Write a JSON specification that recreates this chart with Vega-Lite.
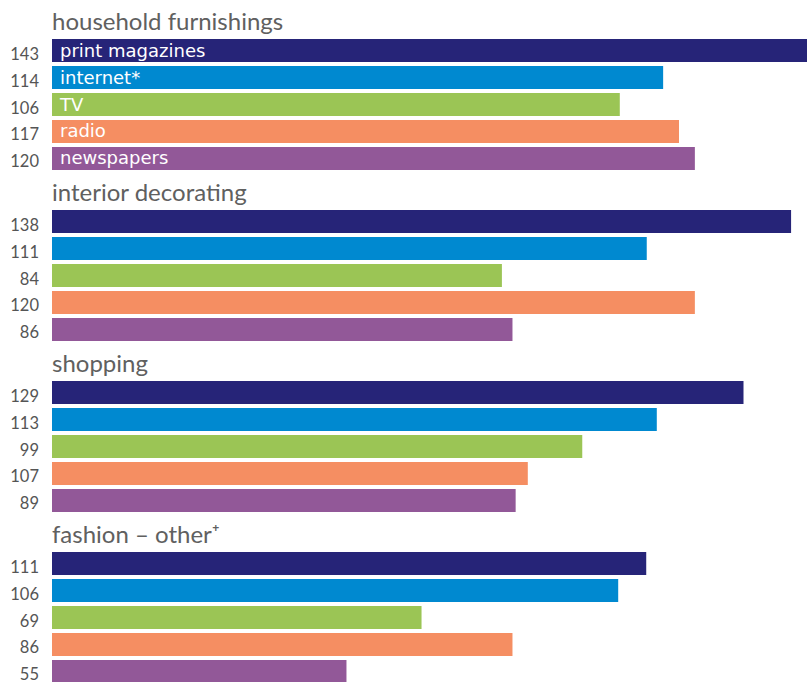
{
  "$schema": "https://vega.github.io/schema/vega-lite/v6.json",
  "padding": {"left": 10, "top": 11, "right": 0, "bottom": 0},
  "background": "white",
  "config": {"view": {"stroke": null}, "font": "Lato"},
  "data": {
    "values": [
      {"group": "household furnishings", "media": "print magazines", "index": 143, "bar": 143.0},
      {"group": "household furnishings", "media": "internet*", "index": 114, "bar": 115.6},
      {"group": "household furnishings", "media": "TV", "index": 106, "bar": 107.4},
      {"group": "household furnishings", "media": "radio", "index": 117, "bar": 118.6},
      {"group": "household furnishings", "media": "newspapers", "index": 120, "bar": 121.6},
      {"group": "interior decorating", "media": "print magazines", "index": 138, "bar": 139.8},
      {"group": "interior decorating", "media": "internet*", "index": 111, "bar": 112.5},
      {"group": "interior decorating", "media": "TV", "index": 84, "bar": 85.1},
      {"group": "interior decorating", "media": "radio", "index": 120, "bar": 121.6},
      {"group": "interior decorating", "media": "newspapers", "index": 86, "bar": 87.1},
      {"group": "shopping", "media": "print magazines", "index": 129, "bar": 130.8},
      {"group": "shopping", "media": "internet*", "index": 113, "bar": 114.4},
      {"group": "shopping", "media": "TV", "index": 99, "bar": 100.3},
      {"group": "shopping", "media": "radio", "index": 107, "bar": 90.0},
      {"group": "shopping", "media": "newspapers", "index": 89, "bar": 87.7},
      {"group": "fashion – other⁺", "media": "print magazines", "index": 111, "bar": 112.4},
      {"group": "fashion – other⁺", "media": "internet*", "index": 106, "bar": 107.1},
      {"group": "fashion – other⁺", "media": "TV", "index": 69, "bar": 69.9},
      {"group": "fashion – other⁺", "media": "radio", "index": 86, "bar": 87.1},
      {"group": "fashion – other⁺", "media": "newspapers", "index": 55, "bar": 55.7}
    ]
  },
  "facet": {
    "row": {
      "field": "group",
      "type": "nominal",
      "sort": ["household furnishings", "interior decorating", "shopping", "fashion – other⁺"],
      "title": null,
      "header": {
        "labelOrient": "top",
        "labelAnchor": "start",
        "labelAngle": 0,
        "labelFontSize": 24,
        "labelFont": "Lato",
        "labelColor": "#606060",
        "labelPadding": -20
      }
    }
  },
  "spacing": 11,
  "spec": {
    "width": 756,
    "height": 131,
    "encoding": {
      "y": {
        "field": "media",
        "type": "nominal",
        "sort": ["print magazines", "internet*", "TV", "radio", "newspapers"],
        "axis": null,
        "scale": {"paddingInner": 0.148, "paddingOuter": 0}
      }
    },
    "layer": [
      {
        "mark": {"type": "bar"},
        "encoding": {
          "x": {"field": "bar", "type": "quantitative", "axis": null, "scale": {"domain": [0, 143], "nice": false, "zero": true}},
          "color": {
            "field": "media",
            "type": "nominal",
            "legend": null,
            "scale": {
              "domain": ["print magazines", "internet*", "TV", "radio", "newspapers"],
              "range": ["#262478", "#0089D0", "#9BC555", "#F58E62", "#925898"]
            }
          }
        }
      },
      {
        "mark": {"type": "text", "align": "right", "baseline": "middle", "dx": -13, "dy": 4, "fontSize": 16.5, "color": "#555555", "font": "Lato"},
        "encoding": {
          "x": {"datum": 0},
          "text": {"field": "index", "type": "quantitative"}
        }
      },
      {
        "transform": [{"filter": "datum.group === 'household furnishings'"}],
        "mark": {"type": "text", "align": "left", "baseline": "middle", "dx": 8, "dy": 1, "fontSize": 18, "color": "white", "font": "DejaVu Sans"},
        "encoding": {
          "x": {"datum": 0},
          "text": {"field": "media", "type": "nominal"}
        }
      }
    ]
  }
}
